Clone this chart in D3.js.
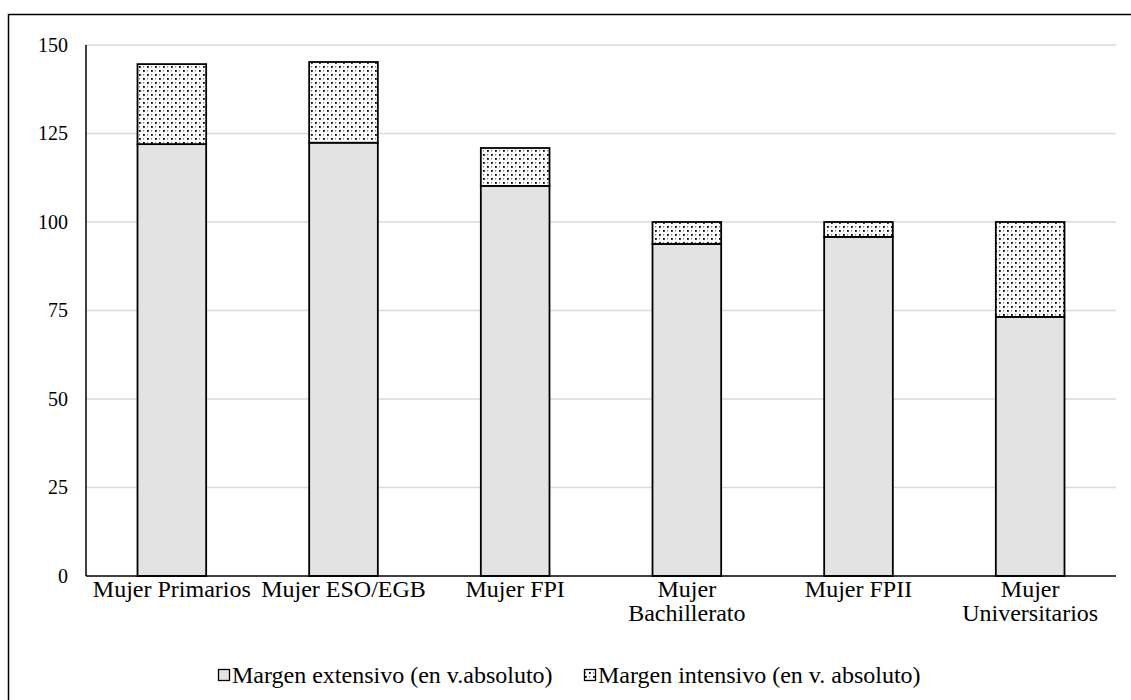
<!DOCTYPE html>
<html>
<head>
<meta charset="utf-8">
<script src="https://cdn.jsdelivr.net/npm/d3@7"></script>
<style>
  html, body { margin: 0; padding: 0; background: #fff; }
  svg { display: block; }
  text { font-family: "Liberation Serif", "Times New Roman", serif; fill: #000; }
</style>
</head>
<body>
<svg id="chart" width="1131" height="700"></svg>
<script>
// Categories (education level) and stacked components
const categories = [
  ["Mujer Primarios"],
  ["Mujer ESO/EGB"],
  ["Mujer FPI"],
  ["Mujer", "Bachillerato"],
  ["Mujer FPII"],
  ["Mujer", "Universitarios"]
];
const extensivo = [122.0, 122.4, 110.2, 93.8, 95.8, 73.2];
const intensivo = [22.6, 22.8, 10.7, 6.2, 4.2, 26.8];
const seriesNames = ["Margen extensivo (en v.absoluto)", "Margen intensivo (en v. absoluto)"];
const yTicks = [0, 25, 50, 75, 100, 125, 150];

const svg = d3.select("#chart");
const W = 1131, H = 700;
const margin = { left: 86, right: 15, top: 45, bottom: 124 };
const plotW = W - margin.left - margin.right;
const plotH = H - margin.top - margin.bottom;

// Outer frame
svg.append("rect")
  .attr("x", 8.5).attr("y", 14.5)
  .attr("width", W).attr("height", H)
  .attr("fill", "none").attr("stroke", "#000").attr("stroke-width", 1.5);

// Dotted fill pattern
const defs = svg.append("defs");
const pat = defs.append("pattern")
  .attr("id", "dots").attr("patternUnits", "userSpaceOnUse")
  .attr("width", 8).attr("height", 8);
pat.append("rect").attr("width", 8).attr("height", 8).attr("fill", "#fff");
pat.append("rect").attr("x", 1).attr("y", 1).attr("width", 1.8).attr("height", 1.8).attr("fill", "#000");
pat.append("rect").attr("x", 5).attr("y", 5).attr("width", 1.8).attr("height", 1.8).attr("fill", "#000");
pat.append("rect").attr("x", 5).attr("y", 1.3).attr("width", 1).attr("height", 1).attr("fill", "#444");
pat.append("rect").attr("x", 1).attr("y", 5.3).attr("width", 1).attr("height", 1).attr("fill", "#444");

const g = svg.append("g").attr("transform", `translate(${margin.left},${margin.top})`);

const x = d3.scaleBand()
  .domain(d3.range(categories.length))
  .range([0, plotW])
  .paddingInner(0.6).paddingOuter(0.3);

const y = d3.scaleLinear().domain([0, 150]).range([plotH, 0]);

// Horizontal gridlines
g.append("g").selectAll("line")
  .data(yTicks.filter(d => d > 0))
  .join("line")
  .attr("x1", 0).attr("x2", plotW)
  .attr("y1", d => y(d)).attr("y2", d => y(d))
  .attr("stroke", "#d9d9d9").attr("stroke-width", 1.5);

// Y axis labels
const yAxis = g.append("g")
  .call(d3.axisLeft(y).tickValues(yTicks).tickSize(0).tickPadding(18));
yAxis.select(".domain").remove();
yAxis.selectAll("text")
  .style("font-family", "'Liberation Serif', serif")
  .style("font-size", "20px").attr("fill", "#000");

// Stacked data
const rows = categories.map((c, i) => ({ i, ext: extensivo[i], int: intensivo[i] }));
const stack = d3.stack().keys(["ext", "int"])(rows);
const fills = ["#e3e3e3", "url(#dots)"];

g.append("g").selectAll("g")
  .data(stack)
  .join("g")
  .attr("fill", (d, k) => fills[k])
  .selectAll("rect")
  .data(d => d)
  .join("rect")
  .attr("x", d => x(d.data.i))
  .attr("width", x.bandwidth())
  .attr("y", d => y(d[1]))
  .attr("height", d => y(d[0]) - y(d[1]))
  .attr("stroke", "#000").attr("stroke-width", 1.8);

// Axis lines
g.append("line").attr("x1", 0).attr("x2", 0).attr("y1", 0).attr("y2", plotH)
  .attr("stroke", "#000").attr("stroke-width", 1.5);
g.append("line").attr("x1", 0).attr("x2", plotW).attr("y1", plotH).attr("y2", plotH)
  .attr("stroke", "#000").attr("stroke-width", 1.5);

// Category labels
const xl = g.append("g").selectAll("text")
  .data(categories)
  .join("text")
  .attr("text-anchor", "middle")
  .attr("x", (d, i) => x(i) + x.bandwidth() / 2)
  .attr("y", plotH + 4)
  .style("font-size", "24px");
xl.selectAll("tspan")
  .data(d => d)
  .join("tspan")
  .attr("x", function () { return d3.select(this.parentNode).attr("x"); })
  .attr("dy", (d, j) => j === 0 ? "0.72em" : "1.0em")
  .text(d => d);

// Legend
const legend = svg.append("g").attr("transform", "translate(0,675)");
const legX = [218, 584];
seriesNames.forEach((name, k) => {
  const lg = legend.append("g").attr("transform", `translate(${legX[k]},0)`);
  lg.append("rect").attr("x", 0.5).attr("y", -5.5).attr("width", 11).attr("height", 11)
    .attr("fill", k === 0 ? "#e3e3e3" : "url(#dots)")
    .attr("stroke", "#000").attr("stroke-width", 1.3);
  lg.append("text").attr("x", 14).attr("y", 0).attr("dy", "0.35em")
    .style("font-size", "24px").text(name);
});
</script>
</body>
</html>
